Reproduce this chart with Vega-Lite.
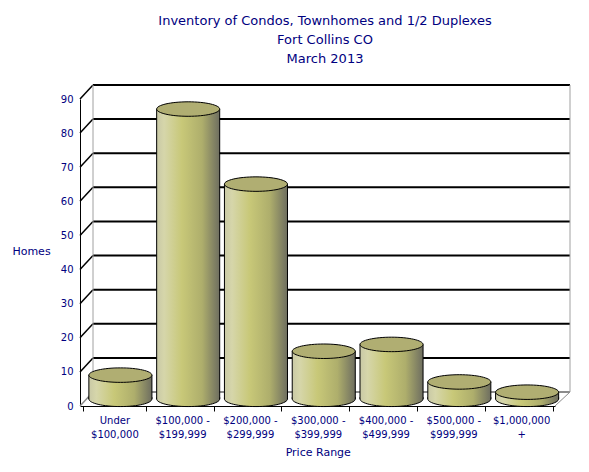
{
  "$schema": "https://vega.github.io/schema/vega-lite/v6.json",
  "autosize": "none",
  "width": 490,
  "height": 321,
  "padding": {"left": 80, "top": 85, "right": 19, "bottom": 66},
  "background": "white",
  "title": {
    "text": ["Inventory of Condos, Townhomes and 1/2 Duplexes", "Fort Collins CO", "March 2013"],
    "color": "#000080",
    "font": "DejaVu Sans",
    "fontSize": 13,
    "fontWeight": "normal",
    "lineHeight": 19,
    "anchor": "middle",
    "frame": "group",
    "offset": 18
  },
  "datasets": {
    "inventory": [
      {"range": "Under|$100,000", "homes": 7},
      {"range": "$100,000 -|$199,999", "homes": 85},
      {"range": "$200,000 -|$299,999", "homes": 63},
      {"range": "$300,000 -|$399,999", "homes": 14},
      {"range": "$400,000 -|$499,999", "homes": 16},
      {"range": "$500,000 -|$999,999", "homes": 5},
      {"range": "$1,000,000|+", "homes": 2}
    ],
    "grid": [
      {"v": 0}, {"v": 10}, {"v": 20}, {"v": 30}, {"v": 40},
      {"v": 50}, {"v": 60}, {"v": 70}, {"v": 80}, {"v": 90}
    ],
    "walls": [{"e": 0}, {"e": 1}]
  },
  "layer": [
    {
      "data": {"name": "inventory"},
      "encoding": {
        "x": {
          "field": "range",
          "type": "nominal",
          "sort": null,
          "scale": {"range": [0.5, 475], "paddingInner": 0.07, "paddingOuter": 0.035},
          "axis": {
            "orient": "bottom",
            "title": "Price Range",
            "titleColor": "#000080",
            "titleFont": "DejaVu Sans",
            "titleFontSize": 11,
            "titleFontWeight": "normal",
            "titlePadding": 7,
            "labelExpr": "split(datum.label, '|')",
            "labelAngle": 0,
            "labelColor": "#000080",
            "labelFont": "DejaVu Sans",
            "labelFontSize": 10,
            "labelLineHeight": 14,
            "labelPadding": 4,
            "domainColor": "black",
            "tickColor": "black",
            "tickSize": 5,
            "tickBand": "extent"
          }
        },
        "y": {
          "field": "homes",
          "type": "quantitative",
          "scale": {"domain": [0, 90], "range": [321, 14], "nice": false},
          "axis": {
            "orient": "left",
            "values": [0, 10, 20, 30, 40, 50, 60, 70, 80, 90],
            "labelOverlap": false,
            "grid": false,
            "domainColor": "black",
            "ticks": false,
            "labelPadding": 7,
            "labelColor": "#000080",
            "labelFont": "DejaVu Sans",
            "labelFontSize": 10,
            "title": "Homes",
            "titleColor": "#000080",
            "titleFont": "DejaVu Sans",
            "titleFontSize": 11,
            "titleFontWeight": "normal",
            "titleAngle": 0,
            "titleAlign": "center",
            "titleBaseline": "middle",
            "titleX": -49,
            "titleY": 166
          }
        }
      },
      "mark": {"type": "point", "opacity": 0}
    },
    {
      "layer": [
        {
          "data": {"name": "grid"},
          "mark": {"type": "rule", "strokeWidth": 2},
          "encoding": {
            "x": {"datum": 0, "type": "quantitative", "scale": {"domain": [0, 1], "range": [13, 490]}, "axis": null},
            "x2": {"datum": 1},
            "y": {"field": "v", "type": "quantitative", "scale": {"domain": [0, 90], "range": [307, 0], "nice": false}, "axis": null},
            "color": {"condition": {"test": "datum.v === 0", "value": "#8c8c8c"}, "value": "black"}
          }
        },
        {
          "data": {"name": "grid"},
          "mark": {"type": "rule", "strokeWidth": 1.5, "xOffset": -13, "yOffset": 14},
          "encoding": {
            "x": {"datum": 0, "type": "quantitative"},
            "x2": {"datum": 0},
            "y": {"field": "v", "type": "quantitative"},
            "y2": {"field": "v"},
            "color": {"condition": {"test": "datum.v === 0", "value": "#8c8c8c"}, "value": "black"}
          }
        },
        {
          "data": {"name": "walls"},
          "mark": {"type": "rule", "strokeWidth": 1, "color": "#a0a0a0"},
          "encoding": {
            "x": {"field": "e", "type": "quantitative"},
            "y": {"datum": 0, "type": "quantitative"},
            "y2": {"datum": 90}
          }
        },
        {
          "data": {"name": "walls"},
          "transform": [{"filter": "datum.e === 1"}],
          "mark": {"type": "rule", "strokeWidth": 1, "color": "#8c8c8c", "xOffset": -15, "yOffset": 14},
          "encoding": {
            "x": {"field": "e", "type": "quantitative"},
            "x2": {"field": "e"},
            "y": {"datum": 0, "type": "quantitative"},
            "y2": {"datum": 0}
          }
        }
      ]
    },
    {
      "data": {"name": "inventory"},
      "encoding": {
        "x": {
          "field": "range",
          "type": "nominal",
          "sort": null,
          "scale": {"range": [0.5, 475], "paddingInner": 0.07, "paddingOuter": 0.035},
          "axis": null
        },
        "y": {
          "field": "homes",
          "type": "quantitative",
          "scale": {"domain": [0, 90], "range": [321, 14], "nice": false},
          "axis": null
        }
      },
      "layer": [
        {
          "mark": {
            "type": "bar",
            "xOffset": 6,
            "yOffset": -7,
            "stroke": "black",
            "strokeWidth": 1,
            "fill": {
              "gradient": "linear",
              "x1": 0, "y1": 0, "x2": 1, "y2": 0,
              "stops": [
                {"offset": 0, "color": "#c9c9a6"},
                {"offset": 0.12, "color": "#d6d6aa"},
                {"offset": 0.4, "color": "#c8c878"},
                {"offset": 0.72, "color": "#aeae6c"},
                {"offset": 1, "color": "#6e6e60"}
              ]
            }
          }
        },
        {
          "mark": {
            "type": "point",
            "filled": true,
            "opacity": 1,
            "xOffset": 6,
            "yOffset": -7,
            "size": 3969,
            "shape": "M -1 -0.06 L -1 0 A 1 0.24 0 0 0 1 0 L 1 -0.06",
            "stroke": "black",
            "strokeWidth": 1,
            "fill": {
              "gradient": "linear",
              "x1": 0, "y1": 0, "x2": 1, "y2": 0,
              "stops": [
                {"offset": 0, "color": "#c9c9a6"},
                {"offset": 0.12, "color": "#d6d6aa"},
                {"offset": 0.4, "color": "#c8c878"},
                {"offset": 0.72, "color": "#aeae6c"},
                {"offset": 1, "color": "#6e6e60"}
              ]
            }
          },
          "encoding": {
            "y": {"datum": 0, "type": "quantitative", "axis": null}
          }
        },
        {
          "mark": {
            "type": "point",
            "filled": true,
            "opacity": 1,
            "xOffset": 6,
            "yOffset": -7,
            "size": 3969,
            "shape": "M -1 0 A 1 0.23 0 1 0 1 0 A 1 0.23 0 1 0 -1 0 Z",
            "stroke": "black",
            "strokeWidth": 1,
            "fill": "#b0ae72"
          }
        }
      ]
    }
  ],
  "resolve": {"scale": {"x": "independent", "y": "independent"}},
  "config": {"view": {"stroke": null}}
}
